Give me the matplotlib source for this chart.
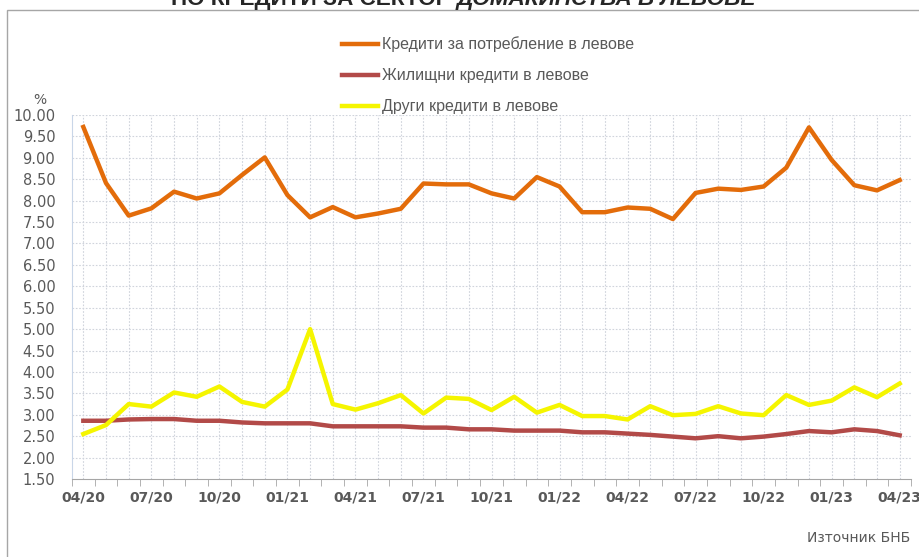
import matplotlib
matplotlib.use("Agg")
import matplotlib.pyplot as plt
import numpy as np
from matplotlib.patches import Rectangle

# monthly data 04/20 .. 04/23
months = [
    "04/20", "05/20", "06/20", "07/20", "08/20", "09/20", "10/20", "11/20", "12/20",
    "01/21", "02/21", "03/21", "04/21", "05/21", "06/21", "07/21", "08/21", "09/21",
    "10/21", "11/21", "12/21", "01/22", "02/22", "03/22", "04/22", "05/22", "06/22",
    "07/22", "08/22", "09/22", "10/22", "11/22", "12/22", "01/23", "02/23", "03/23",
    "04/23",
]
consumer = [
    9.72, 8.41, 7.65, 7.82, 8.21, 8.05, 8.17, 8.60, 9.01, 8.13, 7.61, 7.85, 7.61,
    7.70, 7.81, 8.40, 8.38, 8.38, 8.17, 8.05, 8.55, 8.33, 7.73, 7.73, 7.84, 7.81,
    7.57, 8.18, 8.28, 8.25, 8.33, 8.77, 9.71, 8.95, 8.36, 8.24, 8.48,
]
housing = [
    2.86, 2.86, 2.89, 2.90, 2.90, 2.86, 2.86, 2.82, 2.80, 2.80, 2.80, 2.73, 2.73,
    2.73, 2.73, 2.70, 2.70, 2.66, 2.66, 2.63, 2.63, 2.63, 2.59, 2.59, 2.56, 2.53,
    2.49, 2.45, 2.50, 2.45, 2.49, 2.55, 2.62, 2.59, 2.66, 2.62, 2.52,
]
other = [
    2.55, 2.76, 3.25, 3.19, 3.52, 3.42, 3.66, 3.30, 3.19, 3.59, 5.00, 3.25, 3.12,
    3.27, 3.46, 3.03, 3.40, 3.37, 3.11, 3.42, 3.05, 3.23, 2.97, 2.97, 2.89, 3.20,
    2.99, 3.02, 3.20, 3.03, 2.99, 3.46, 3.23, 3.33, 3.64, 3.41, 3.73,
]
labels = [
    "Кредити за потребление в левове",
    "Жилищни кредити в левове",
    "Други кредити в левове",
]
yticks = np.arange(1.5, 10.01, 0.5)

GRAY = "#595959"
W, H = 920, 557

fig = plt.figure(figsize=(9.2, 5.57), dpi=100)
ax = fig.add_axes([72 / W, 1 - 479 / H, (911 - 72) / W, (479 - 115) / H])

x = np.arange(len(months))
ax.plot(x, consumer, color="#E36C0A", lw=3.2, label=labels[0], solid_joinstyle="round")
ax.plot(x, housing, color="#B24A48", lw=3.2, label=labels[1], solid_joinstyle="round")
ax.plot(x, other, color="#F5F500", lw=3.2, label=labels[2], solid_joinstyle="round")

ax.set_xlim(-0.5, len(months) - 0.5)
ax.set_ylim(1.5, 10.0)
ax.set_yticks(yticks)
ax.set_yticklabels(["%.2f" % v for v in yticks], color=GRAY, fontsize=10.5)
ax.tick_params(axis="y", length=0, pad=12)

major = x[::3]
ax.set_xticks(major)
ax.set_xticklabels([months[i] for i in major], color=GRAY, fontsize=10, fontweight="bold")
ax.set_xticks(np.arange(-0.5, len(months), 1), minor=True)
ax.tick_params(axis="x", which="major", length=0, pad=8)
ax.tick_params(axis="x", which="minor", length=5, color="#A6A6A6", direction="out")

# grid: horizontal at y ticks, vertical at every month
for v in yticks[1:]:
    ax.axhline(v, color="#D0D4DC", lw=0.8, ls=(0, (1.5, 1.5)), zorder=0)
for i in x:
    ax.axvline(i, color="#D0D4DC", lw=0.8, ls=(0, (1.5, 1.5)), zorder=0)

for s in ["top", "right"]:
    ax.spines[s].set_visible(False)
ax.spines["left"].set_color("#C9D6E8")
ax.spines["bottom"].set_color("#A6A6A6")

leg = fig.legend(
    loc="upper left",
    bbox_to_anchor=(328 / W, 1 - 22 / H),
    frameon=False,
    handlelength=2.2,
    handletextpad=0.3,
    labelspacing=1.0,
    labelcolor=GRAY,
    prop={"family": ["Liberation Sans", "DejaVu Sans"], "size": 11.5},
)

fig.text(40 / W, 1 - 100 / H, "%", color=GRAY, fontsize=10, ha="center", va="center")
fig.text(910 / W, 1 - 538 / H, "Източник БНБ", color=GRAY, fontsize=10, ha="right", va="center")

# title, top part cut off like in the source image
fig.text(457 / W, 1 - 5 / H, "ПО КРЕДИТИ ЗА СЕКТОР ", ha="right", va="baseline",
         fontsize=16.2, fontweight="bold", color="#262626",
         family=["Liberation Sans", "DejaVu Sans"])
fig.text(457 / W, 1 - 5 / H, "ДОМАКИНСТВА В ЛЕВОВЕ", ha="left", va="baseline",
         fontsize=16.2, fontweight="bold", fontstyle="italic", color="#262626",
         family=["Liberation Sans", "DejaVu Sans"])

# outer frame of the chart
fig.patches.append(Rectangle((7 / W, -0.05), 1.0, 1 - 10 / H + 0.05,
                             transform=fig.transFigure, fill=False,
                             edgecolor="#A6A6A6", lw=1.0))

fig.savefig("out.png", dpi=100)
